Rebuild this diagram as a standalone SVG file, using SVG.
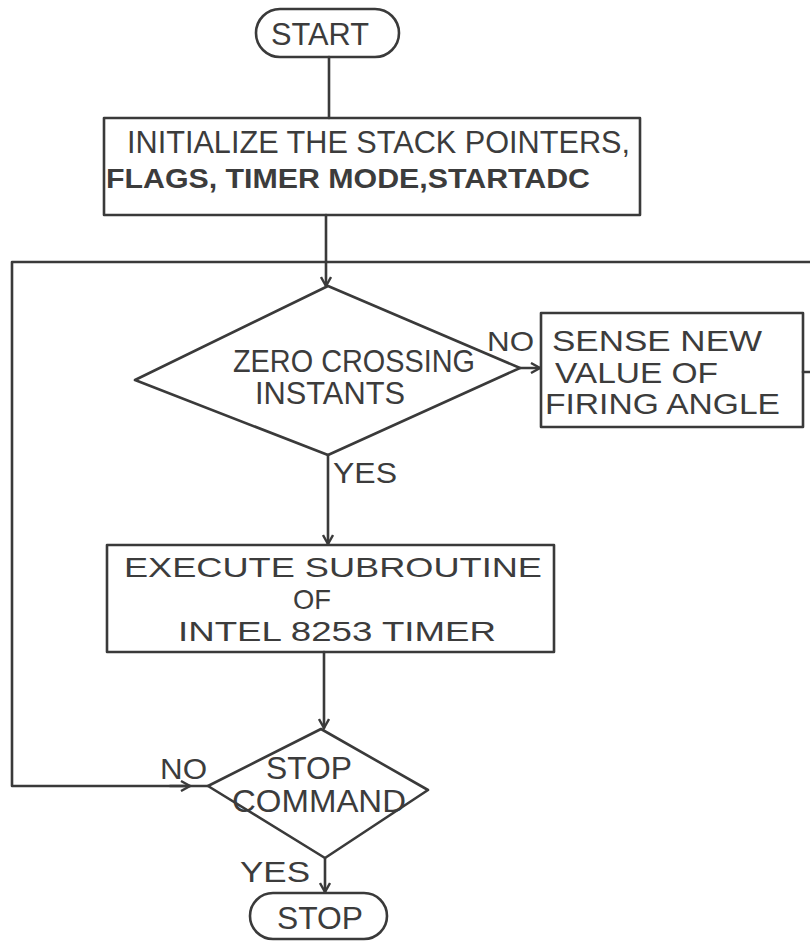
<svg xmlns="http://www.w3.org/2000/svg" width="810" height="942" viewBox="0 0 810 942">
<style>
.s{fill:none;stroke:#3a3a3a;stroke-width:2.6;stroke-linejoin:round;stroke-linecap:round}
.t{font-family:"Liberation Sans","DejaVu Sans",sans-serif;fill:#3c3c3c}
.b{font-weight:bold}
</style>
<defs>
<marker id="ah" markerWidth="12" markerHeight="12" refX="10" refY="6" orient="auto" markerUnits="userSpaceOnUse">
<path d="M1,1 L10,6 L1,11" fill="none" stroke="#3a3a3a" stroke-width="2.4"/>
</marker>
</defs>
<rect width="810" height="942" fill="#ffffff"/>
<g id="connectors">
<path class="s" d="M329,57 V118"/>
<path class="s" d="M326,215 V262"/>
<path class="s" d="M208,786 H12 V262 H810"/>
<path class="s" d="M326,262 V286" marker-end="url(#ah)"/>
<path class="s" d="M520,368 H540" marker-end="url(#ah)"/>
<path class="s" d="M803,372 H810"/>
<path class="s" d="M328,455 V544" marker-end="url(#ah)"/>
<path class="s" d="M324,652 V728" marker-end="url(#ah)"/>
<path class="s" d="M170,786 H190" marker-end="url(#ah)"/>
<path class="s" d="M325,858 V892" marker-end="url(#ah)"/>
<text class="t" x="487" y="351" font-size="28" textLength="47" lengthAdjust="spacingAndGlyphs">NO</text>
<text class="t" x="333" y="483" font-size="29" textLength="64" lengthAdjust="spacingAndGlyphs">YES</text>
<text class="t" x="160" y="779" font-size="30" textLength="47" lengthAdjust="spacingAndGlyphs">NO</text>
<text class="t" x="240" y="882" font-size="30" textLength="70" lengthAdjust="spacingAndGlyphs">YES</text>
</g>
<g id="start">
<rect class="s" x="256" y="9" width="143" height="48" rx="24"/>
<text class="t" x="271" y="45" font-size="31" textLength="98" lengthAdjust="spacingAndGlyphs">START</text>
</g>
<g id="init">
<rect class="s" x="104" y="118" width="536" height="97"/>
<text class="t" x="127" y="153" font-size="32" textLength="503" lengthAdjust="spacingAndGlyphs">INITIALIZE THE STACK POINTERS,</text>
<text class="t b" x="106" y="188" font-size="27" textLength="484" lengthAdjust="spacingAndGlyphs">FLAGS, TIMER MODE,STARTADC</text>
</g>
<g id="zero">
<polygon class="s" points="328,286 520,368 328,455 135,380"/>
<text class="t" x="233" y="372" font-size="31" textLength="242" lengthAdjust="spacingAndGlyphs">ZERO CROSSING</text>
<text class="t" x="255" y="404" font-size="31" textLength="150" lengthAdjust="spacingAndGlyphs">INSTANTS</text>
</g>
<g id="sense">
<rect class="s" x="541" y="313" width="262" height="114"/>
<text class="t" x="552" y="351" font-size="30" textLength="210" lengthAdjust="spacingAndGlyphs">SENSE NEW</text>
<text class="t" x="555" y="383" font-size="30" textLength="163" lengthAdjust="spacingAndGlyphs">VALUE OF</text>
<text class="t" x="545" y="414" font-size="30" textLength="235" lengthAdjust="spacingAndGlyphs">FIRING ANGLE</text>
</g>
<g id="execute">
<rect class="s" x="107" y="545" width="447" height="107"/>
<text class="t" x="124" y="577" font-size="28" textLength="418" lengthAdjust="spacingAndGlyphs">EXECUTE  SUBROUTINE</text>
<text class="t" x="293" y="609" font-size="28" textLength="38" lengthAdjust="spacingAndGlyphs">OF</text>
<text class="t" x="178" y="641" font-size="28" textLength="318" lengthAdjust="spacingAndGlyphs">INTEL 8253 TIMER</text>
</g>
<g id="stopcmd">
<polygon class="s" points="321,729 428,790 325,858 208,786"/>
<text class="t" x="266" y="779" font-size="31" textLength="86" lengthAdjust="spacingAndGlyphs">STOP</text>
<text class="t" x="232" y="812" font-size="31" textLength="174" lengthAdjust="spacingAndGlyphs">COMMAND</text>
</g>
<g id="stop">
<rect class="s" x="250" y="893" width="137" height="46" rx="23"/>
<text class="t" x="277" y="929" font-size="31" textLength="86" lengthAdjust="spacingAndGlyphs">STOP</text>
</g>
</svg>
